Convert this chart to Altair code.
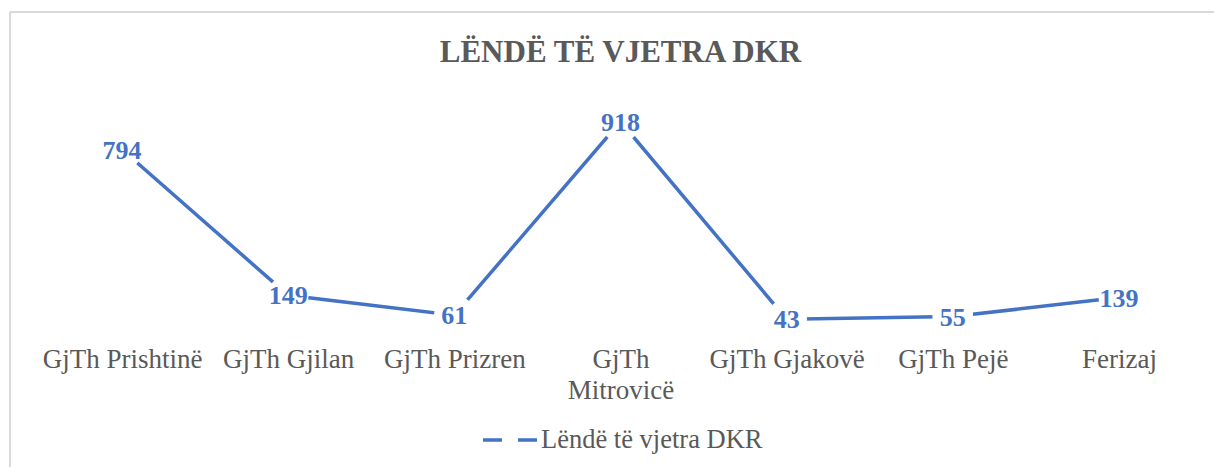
import altair as alt
import pandas as pd

categories = ["GjTh Prishtinë", "GjTh Gjilan", "GjTh Prizren", "GjTh Mitrovicë",
              "GjTh Gjakovë", "GjTh Pejë", "Ferizaj"]
values = [794, 149, 61, 918, 43, 55, 139]
series_name = "Lëndë të vjetra DKR"
title_text = "LËNDË TË VJETRA DKR"

df = pd.DataFrame({"category": categories, "value": values,
                   "series": [series_name] * len(categories)})

FONT = "Liberation Serif"
BLUE = "#4472C4"
GRAY = "#595959"
BORDER = "#D9D9D9"

x_enc = alt.X(
    "category:N", sort=categories,
    scale=alt.Scale(type="point", padding=0.5),
    axis=alt.Axis(title=None, domain=False, ticks=False, grid=False, labelAngle=0,
                  labelFont=FONT, labelFontSize=27, labelColor=GRAY,
                  labelPadding=38, labelBaseline="alphabetic", labelLineHeight=31,
                  labelOverlap=False, labelLimit=0,
                  labelExpr="datum.label == 'GjTh Mitrovicë' ? ['GjTh', 'Mitrovicë'] : datum.label"),
)
y_enc = alt.Y("value:Q", scale=alt.Scale(domain=[0, 1000], nice=False, zero=True), axis=None)

base = alt.Chart(df)

line = base.mark_line(strokeWidth=3.5).encode(
    x=x_enc, y=y_enc,
    color=alt.Color("series:N", scale=alt.Scale(range=[BLUE]),
                    legend=alt.Legend(title=None, orient="none", legendX=442, legendY=308,
                                      symbolType="stroke", symbolSize=2916,
                                      symbolStrokeWidth=3.5, symbolDash=[19, 16],
                                      labelFont=FONT, labelFontSize=26.5, labelColor=GRAY,
                                      labelOffset=2, labelLimit=0, padding=0)),
)

gaps = base.mark_circle(color="white", opacity=1, size=1660).encode(x=x_enc, y=y_enc)

labels = base.mark_text(font=FONT, fontSize=26, fontWeight="bold", color=BLUE,
                        baseline="middle", dy=1).encode(
    x=x_enc, y=y_enc, text=alt.Text("value:Q"))

deco = alt.Chart(alt.Data(values=[{}]))
top_border = deco.mark_rule(color=BORDER, strokeWidth=2).encode(
    x=alt.value(-29), x2=alt.value(1200), y=alt.value(-91))
left_border = deco.mark_rule(color=BORDER, strokeWidth=2).encode(
    x=alt.value(-29), y=alt.value(-91), y2=alt.value(400))

chart = alt.layer(line, gaps, labels, top_border, left_border).properties(
    width=1163, height=226,
    autosize=alt.AutoSizeParams(type="none"),
    padding={"left": 31, "top": 95, "right": 12, "bottom": 138},
    title=alt.Title(title_text, font=FONT, fontSize=31, fontWeight="bold", color=GRAY,
                    anchor="middle", frame="group", baseline="alphabetic", offset=-82),
).configure(background="white", view=alt.ViewConfig(stroke=None))

chart.save("out.html", embed_options={"renderer": "svg", "actions": False})
